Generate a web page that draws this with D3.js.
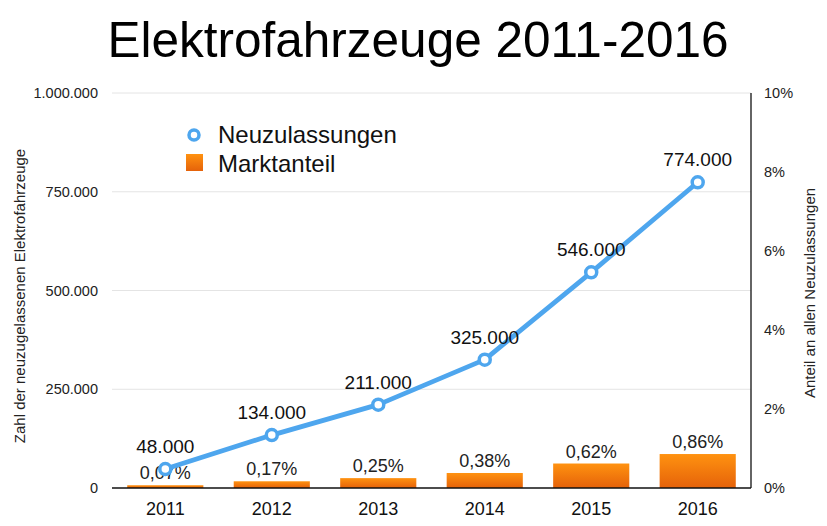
<!DOCTYPE html>
<html><head><meta charset="utf-8">
<script src="https://cdn.jsdelivr.net/npm/d3@7"></script>
<style>body{margin:0;background:#fff}svg{display:block}text{font-family:"Liberation Sans",Arial,Helvetica,sans-serif}</style>
</head><body>
<svg id="c" width="827" height="526"></svg>
<script>
const years = ["2011","2012","2013","2014","2015","2016"];
const registrations = [48000,134000,211000,325000,546000,774000];
const regLabels = ["48.000","134.000","211.000","325.000","546.000","774.000"];
const share = [0.07,0.17,0.25,0.38,0.62,0.86];
const shareLabels = ["0,07%","0,17%","0,25%","0,38%","0,62%","0,86%"];
const leftTicks = [0,250000,500000,750000,1000000];
const leftTickLabels = ["0","250.000","500.000","750.000","1.000.000"];
const rightTicks = [0,2,4,6,8,10];

const svg = d3.select("#c");
const L=112,R=751,T=93,B=488;
const x = d3.scaleBand().domain(years).range([L,R]).paddingInner(0.285).paddingOuter(0.143);
const yL = d3.scaleLinear().domain([0,1000000]).range([B,T]);
const yR = d3.scaleLinear().domain([0,10]).range([B,T]);

const defs = svg.append("defs");
const g = defs.append("linearGradient").attr("id","bar").attr("x1",0).attr("y1",0).attr("x2",0).attr("y2",1);
g.append("stop").attr("offset","0%").attr("stop-color","#ff9210");
g.append("stop").attr("offset","100%").attr("stop-color","#e5620a");

svg.append("text").attr("x",418).attr("y",57).attr("text-anchor","middle")
  .attr("font-size",49.5).attr("fill","#000").text("Elektrofahrzeuge 2011-2016");

// gridlines
svg.append("g").selectAll("line").data(leftTicks.slice(1)).join("line")
  .attr("x1",L).attr("x2",R).attr("y1",d=>yL(d)).attr("y2",d=>yL(d))
  .attr("stroke","#e4e4e4").attr("stroke-width",1);

// left axis
const axL = svg.append("g").attr("transform",`translate(${L},0)`)
  .call(d3.axisLeft(yL).tickValues(leftTicks).tickFormat((d,i)=>leftTickLabels[i]).tickSize(0).tickPadding(14));
axL.select(".domain").remove();
axL.selectAll("text").attr("font-size",14.5).attr("fill","#222").attr("font-family","Liberation Sans, Arial, sans-serif");

// right axis
const axR = svg.append("g").attr("transform",`translate(${R},0)`)
  .call(d3.axisRight(yR).tickValues(rightTicks).tickFormat(d=>d+"%").tickSize(0).tickPadding(13));
axR.select(".domain").remove();
axR.selectAll("text").attr("font-size",14.5).attr("fill","#222").attr("font-family","Liberation Sans, Arial, sans-serif");

// bars
svg.append("g").selectAll("rect").data(years).join("rect")
  .attr("x",d=>x(d)).attr("width",x.bandwidth())
  .attr("y",(d,i)=>yR(share[i])).attr("height",(d,i)=>B-yR(share[i]))
  .attr("fill","url(#bar)");
svg.append("g").selectAll("text").data(years).join("text")
  .attr("x",d=>x(d)+x.bandwidth()/2).attr("y",(d,i)=>yR(share[i])-6)
  .attr("text-anchor","middle").attr("font-size",18).attr("fill","#222")
  .text((d,i)=>shareLabels[i]);

// axis lines
svg.append("line").attr("x1",L).attr("x2",R).attr("y1",B).attr("y2",B).attr("stroke","#111").attr("stroke-width",1.3);
svg.append("line").attr("x1",R).attr("x2",R).attr("y1",T).attr("y2",B).attr("stroke","#111").attr("stroke-width",1.3);

// x axis labels
const axB = svg.append("g").attr("transform",`translate(0,${B})`)
  .call(d3.axisBottom(x).tickSize(0).tickPadding(14));
axB.select(".domain").remove();
axB.selectAll("text").attr("font-size",18).attr("fill","#111").attr("font-family","Liberation Sans, Arial, sans-serif");

// line
const cx = d=>x(d)+x.bandwidth()/2;
const line = d3.line().x((d,i)=>cx(years[i])).y(d=>yL(d));
svg.append("path").datum(registrations).attr("d",line).attr("fill","none")
  .attr("stroke","#4ea6ee").attr("stroke-width",4.8).attr("stroke-linejoin","round");
svg.append("g").selectAll("circle").data(registrations).join("circle")
  .attr("cx",(d,i)=>cx(years[i])).attr("cy",d=>yL(d)).attr("r",5.5)
  .attr("fill","#fff").attr("stroke","#4ea6ee").attr("stroke-width",3.5);
svg.append("g").selectAll("text").data(registrations).join("text")
  .attr("x",(d,i)=>cx(years[i])).attr("y",d=>yL(d)-16)
  .attr("text-anchor","middle").attr("font-size",19).attr("fill","#111")
  .text((d,i)=>regLabels[i]);

// axis titles
svg.append("text").attr("transform","translate(25,296) rotate(-90)").attr("text-anchor","middle")
  .attr("font-size",15).attr("fill","#222").text("Zahl der neuzugelassenen Elektrofahrzeuge");
svg.append("text").attr("transform","translate(815,293) rotate(-90)").attr("text-anchor","middle")
  .attr("font-size",15).attr("fill","#222").text("Anteil an allen Neuzulassungen");

// legend
svg.append("circle").attr("cx",194).attr("cy",135).attr("r",5).attr("fill","#fff").attr("stroke","#4ea6ee").attr("stroke-width",3.5);
svg.append("text").attr("x",218).attr("y",143).attr("font-size",24).attr("fill","#111").text("Neuzulassungen");
svg.append("rect").attr("x",186).attr("y",154).attr("width",17).attr("height",17).attr("fill","url(#bar)");
svg.append("text").attr("x",218).attr("y",172).attr("font-size",24).attr("fill","#111").text("Marktanteil");
</script>
</body></html>
